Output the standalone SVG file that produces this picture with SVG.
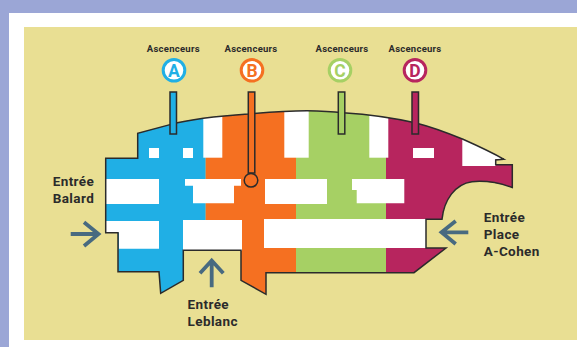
<svg xmlns="http://www.w3.org/2000/svg" width="577" height="347" viewBox="0 0 577 347">
<style>
text{font-family:"Roboto","Liberation Sans",sans-serif;font-weight:700;fill:#2b2b2b}
.l{font-size:13.5px;letter-spacing:.4px}
.a{font-size:9.5px;text-anchor:middle;letter-spacing:.25px}
.c{font-size:17.5px;text-anchor:middle}
.w{fill:#fff}
.o{fill:none;stroke:#2b2b2b;stroke-width:1.5;stroke-linejoin:miter}
.r{stroke:#2b2b2b;stroke-width:1.5}
.ar{fill:none;stroke:#486a80;stroke-width:3.8}
.ci{fill:#fff;stroke-width:3}
</style>
<defs>
<path id="outline" d="M105.7 158.3H137.7V133.3L170 124.6C195 118 225 115.5 248 114C270 112 290 110.7 307 110.7C320 110.9 332 111.5 343 112.7C370 114.5 392 117.5 415 122.7C432 127 448 133 463 139.3C478 146 491 152 504 159.3L495.7 160V164.7H512.3V187.5C500 183 485 180.5 472 181.7C455 184 444 200 442 219.3H426V248H446L414 272.7H266V294.3L241 280.3V250.3H183.3V280.3L160.7 293.3L159 271.7H118V232.7H105.7Z"/>
<clipPath id="plan"><use href="#outline"/></clipPath>
</defs>
<rect width="577" height="347" fill="#9ba6d6"/>
<rect x="9" y="13" width="568" height="334" fill="#fff"/>
<rect x="24" y="27" width="553" height="313" fill="#e9df93"/>
<g id="plan-fill" clip-path="url(#plan)">
<rect x="100" y="100" width="105.700" height="200" fill="#20afe5"/>
<rect x="205.700" y="100" width="90.300" height="200" fill="#f57021"/>
<rect x="296" y="100" width="90" height="200" fill="#a6d064"/>
<rect x="386" y="100" width="130" height="200" fill="#b7255e"/>
<g class="w">
<rect x="149" y="148" width="10" height="10"/>
<rect x="183" y="148" width="10" height="10"/>
<rect x="203.300" y="100" width="19" height="57.700"/>
<rect x="284.300" y="100" width="24.400" height="57.700"/>
<rect x="369.300" y="100" width="19" height="57.700"/>
<rect x="413" y="148" width="21" height="10"/>
<path d="M462.300 130H520V159H495.700V166H462.300Z"/>
<rect x="100" y="179" width="59" height="25"/>
<path d="M185 179H241V185.700H234V203.300H193V185.700H185Z"/>
<rect x="265" y="179" width="62" height="25"/>
<path d="M352 179H404.300V203.300H356.700V190H352Z"/>
<path d="M100 221H159V248.700H119V232.700H100Z"/>
<rect x="183" y="220" width="59" height="31"/>
<rect x="264" y="219" width="162" height="29"/>
</g>
</g>
<use id="plan-outline" href="#outline" class="o"/>
<g id="lift-A">
<rect class="r" x="170" y="92" width="6.500" height="42" fill="#20afe5"/>
<circle class="ci" cx="174" cy="70.300" r="10.800" stroke="#20afe5"/>
<text class="c" x="174" y="76.500" style="fill:#20afe5">A</text>
<text class="a" x="173.300" y="51.700">Ascenceurs</text>
</g>
<g id="lift-B">
<rect class="r" x="248.300" y="92" width="6.500" height="81" fill="#f57021"/>
<circle cx="251" cy="180.300" r="6.800" fill="#f57021" stroke="#2b2b2b" stroke-width="1.500"/>
<circle class="ci" cx="252" cy="70.300" r="10.800" stroke="#f57021"/>
<text class="c" x="252" y="76.500" style="fill:#f57021">B</text>
<text class="a" x="251" y="51.700">Ascenceurs</text>
</g>
<g id="lift-C">
<rect class="r" x="338.300" y="92" width="6.500" height="42" fill="#a6d064"/>
<circle class="ci" cx="340" cy="70.300" r="10.800" stroke="#a6d064"/>
<text class="c" x="340" y="76.500" style="fill:#a6d064">C</text>
<text class="a" x="342" y="51.700">Ascenceurs</text>
</g>
<g id="lift-D">
<rect class="r" x="412" y="92" width="6.500" height="42" fill="#b7255e"/>
<circle class="ci" cx="415" cy="70.300" r="10.800" stroke="#b7255e"/>
<text class="c" x="415" y="76.500" style="fill:#b7255e">D</text>
<text class="a" x="415" y="51.700">Ascenceurs</text>
</g>
<g id="connectors">
<path class="ar" d="M70.700 234H97M84 222.300L98.500 234L84 246"/>
<path class="ar" d="M211.700 287.300V262M200 273.300L211.700 260.500L223.300 273.300"/>
<path class="ar" d="M468.300 232.300H443M455.700 221L441.500 232.300L455.700 244"/>
</g>
<g id="entrances">
<text class="l" x="52.700" y="186">Entrée</text>
<text class="l" x="52.700" y="202.700">Balard</text>
<text class="l" x="187.500" y="309">Entrée</text>
<text class="l" x="187.500" y="326">Leblanc</text>
<text class="l" x="483.700" y="222.300">Entrée</text>
<text class="l" x="483.700" y="239">Place</text>
<text class="l" x="483.700" y="256">A-Cohen</text>
</g>
</svg>
